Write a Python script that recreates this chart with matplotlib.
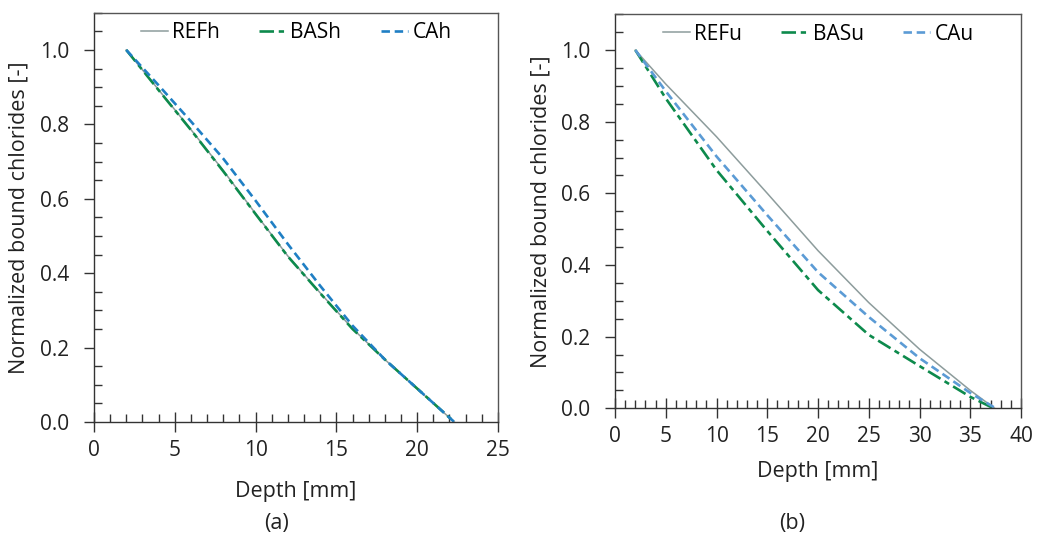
import numpy as np
import matplotlib
matplotlib.use('Agg')
import matplotlib.pyplot as plt
from matplotlib.ticker import MultipleLocator

plt.rcParams['font.family'] = ['Open Sans', 'DejaVu Sans']

# (a) healed / (b) unhealed profiles
depth_h = [2, 4, 6, 8, 10, 12, 14, 16, 18, 20, 22.3]
ref_h = [1.0, 0.893, 0.786, 0.676, 0.560, 0.446, 0.347, 0.251, 0.168, 0.089, 0.0]
bas_h = [1.0, 0.892, 0.785, 0.674, 0.559, 0.445, 0.346, 0.250, 0.168, 0.090, 0.0]
ca_h = [1.0, 0.905, 0.808, 0.708, 0.595, 0.478, 0.366, 0.259, 0.168, 0.090, 0.0]

depth_u = [2, 5, 10, 15, 20, 25, 30, 35]
ref_u = [1.0, 0.905, 0.758, 0.600, 0.440, 0.295, 0.165, 0.050]
bas_u = [1.0, 0.865, 0.665, 0.495, 0.330, 0.205, 0.118, 0.032]
ca_u = [1.0, 0.885, 0.703, 0.539, 0.380, 0.255, 0.140, 0.043]
end_u = {'ref': 37.4, 'bas': 37.3, 'ca': 37.5}

grey = '#8d9c9c'
green = '#0d8a4c'
blue_a = '#1f7fc4'
blue_b = '#5b9bd5'

fig = plt.figure(figsize=(10.37, 5.35), dpi=100)
ax1 = fig.add_axes([0.0906, 0.2112, 0.3896, 0.7650])
ax2 = fig.add_axes([0.5931, 0.2368, 0.3915, 0.7366])


def style(ax, xmax):
    ax.set_xlim(0, xmax)
    ax.set_ylim(0, 1.1)
    ax.xaxis.set_major_locator(MultipleLocator(5))
    ax.xaxis.set_minor_locator(MultipleLocator(1))
    ax.yaxis.set_major_locator(MultipleLocator(0.2))
    ax.yaxis.set_minor_locator(MultipleLocator(0.05))
    ax.yaxis.set_major_formatter(plt.FormatStrFormatter('%.1f'))
    for s in ax.spines.values():
        s.set_color('#555555')
        s.set_linewidth(1.0)
    ax.spines['left'].set_color('#333333')
    ax.spines['bottom'].set_color('#333333')
    ax.tick_params(axis='x', which='major', direction='inout', length=14,
                   width=1, color='#333333', labelsize=15, pad=6)
    ax.tick_params(axis='x', which='minor', direction='in', length=6,
                   width=1, color='#333333')
    ax.tick_params(axis='y', which='major', direction='out', length=7,
                   width=1, color='#333333', labelsize=15, pad=11)
    ax.tick_params(axis='y', which='minor', direction='in', length=6,
                   width=1, color='#333333')
    ax.set_ylabel('Normalized bound chlorides [-]', fontsize=15.5, color='#222222',
                  labelpad=7)
    ax.set_xlabel('Depth [mm]', fontsize=15.5, color='#222222')
    for lab in ax.get_xticklabels() + ax.get_yticklabels():
        lab.set_color('#222222')


# panel (a)
ax1.plot(depth_h, ref_h, color=grey, lw=1.1, label='REFh')
ax1.plot(depth_h, bas_h, color=green, lw=1.9, dashes=(5.5, 1.8, 2, 1.8), label='BASh')
ax1.plot(depth_h, ca_h, color=blue_a, lw=1.9, dashes=(3.2, 1.8), label='CAh')
style(ax1, 25)
ax1.xaxis.labelpad = 14

# panel (b)
ax2.plot(depth_u + [end_u['ref']], ref_u + [0.0], color=grey, lw=1.1, label='REFu')
ax2.plot(depth_u + [end_u['bas']], bas_u + [0.0], color=green, lw=1.9,
         dashes=(5.5, 1.8, 2, 1.8), label='BASu')
ax2.plot(depth_u + [end_u['ca']], ca_u + [0.0], color=blue_b, lw=1.9,
         dashes=(3.2, 1.8), label='CAu')
style(ax2, 40)
ax2.xaxis.labelpad = 10

for ax in (ax1, ax2):
    ax.legend(loc='upper center', bbox_to_anchor=(0.5, 1.0), ncol=3, frameon=False,
              fontsize=15, handlelength=1.3, handletextpad=0.2, columnspacing=1.9,
              borderaxespad=0.15, borderpad=0.3)

fig.text(0.2671, 0.012, '(a)', fontsize=15.5, ha='center', color='#222222')
fig.text(0.7637, 0.012, '(b)', fontsize=15.5, ha='center', color='#222222')

fig.savefig('out.png', dpi=100)
